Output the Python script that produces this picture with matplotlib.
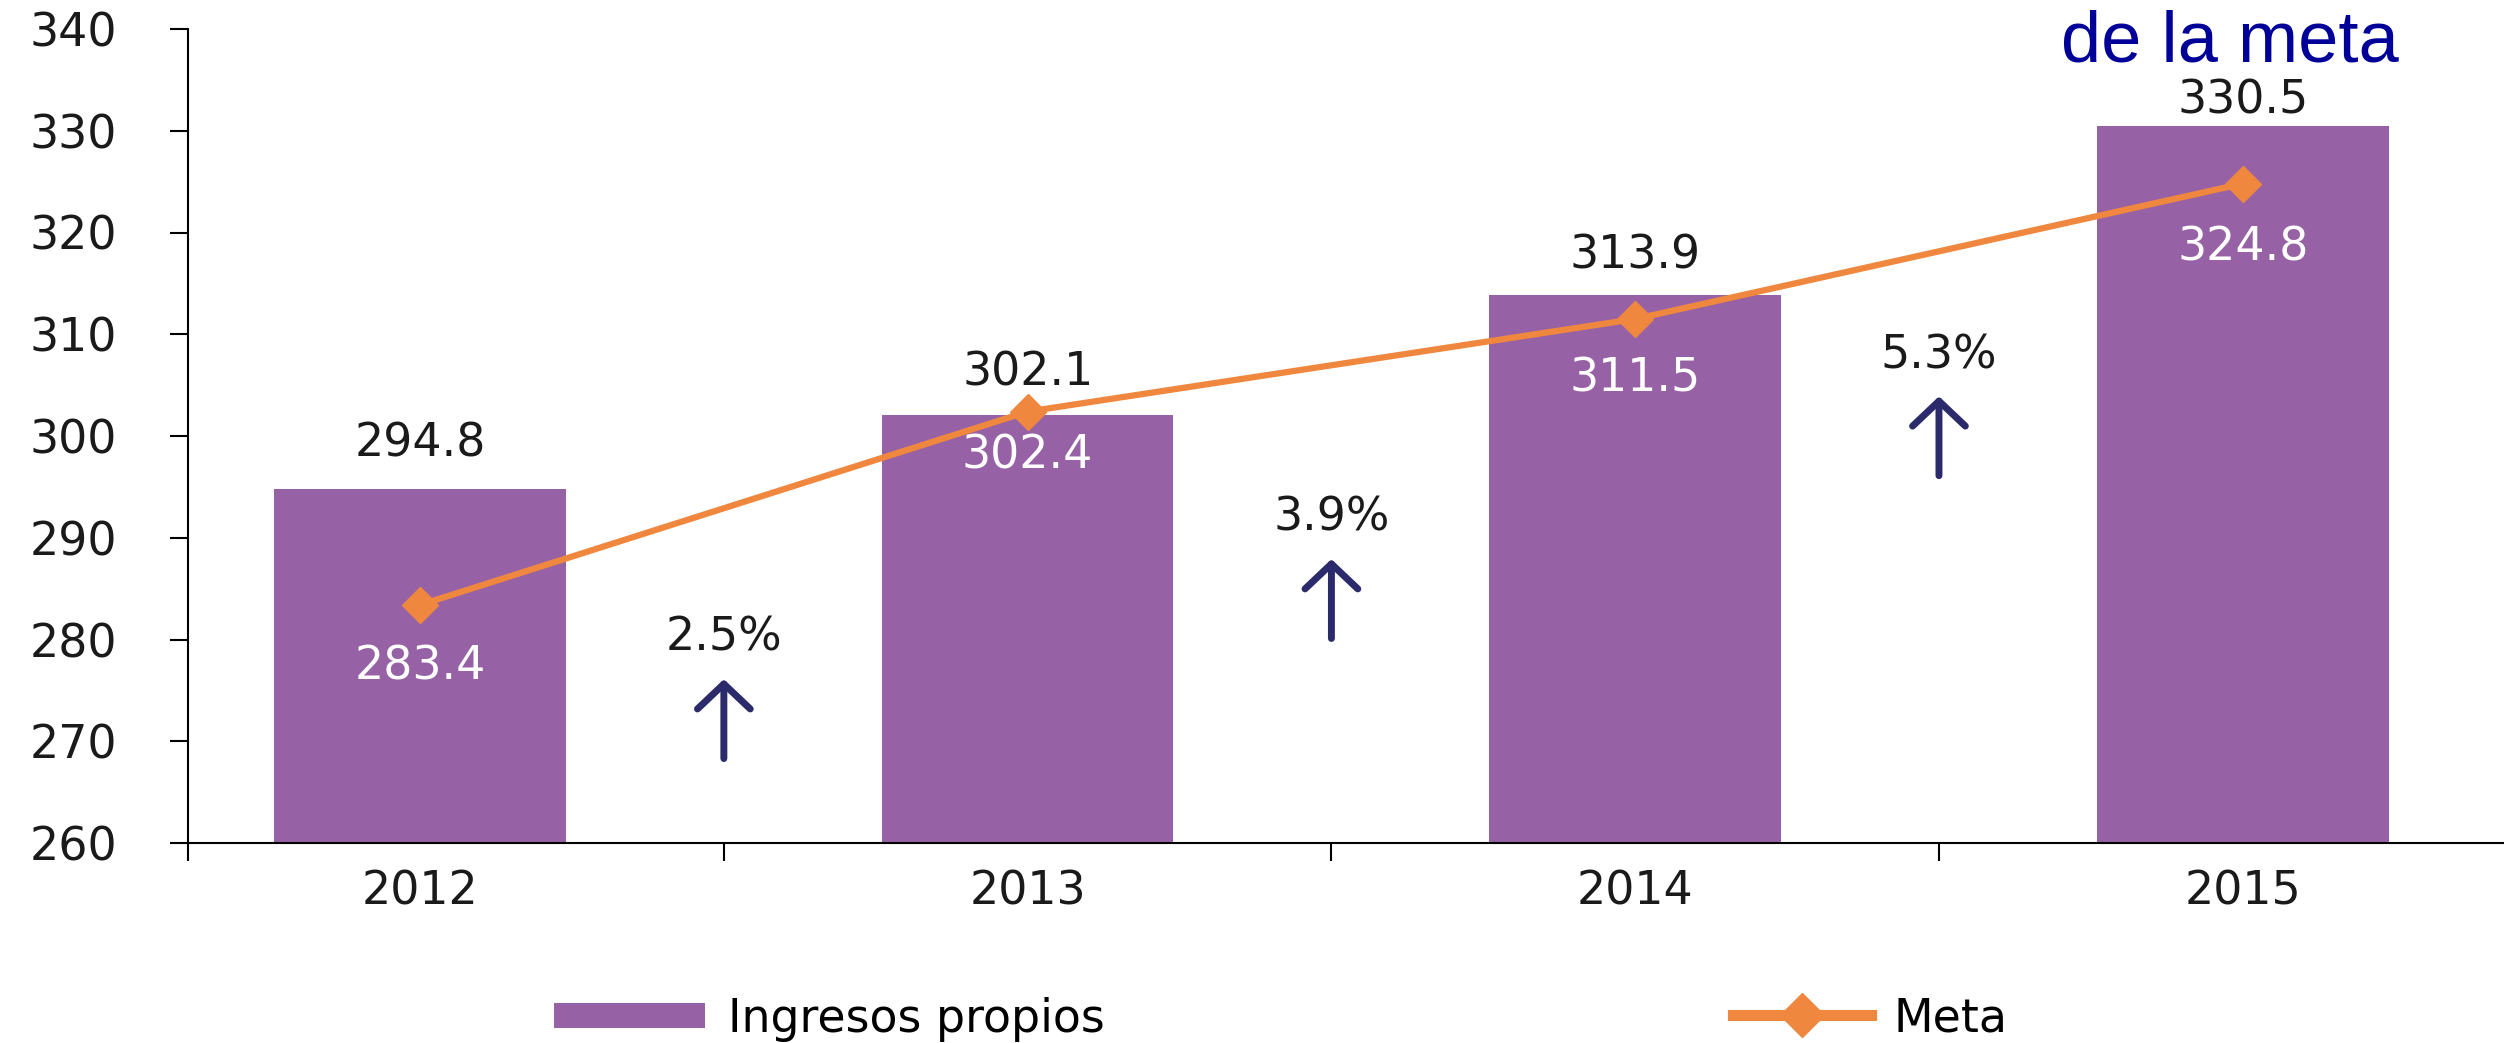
import matplotlib
matplotlib.use('Agg')
import matplotlib.pyplot as plt
from matplotlib.patches import Patch
from matplotlib.lines import Line2D

plt.rcParams['font.family'] = ['DejaVu Sans']

# datos
years = ['2012', '2013', '2014', '2015']
ingresos = [294.8, 302.1, 313.9, 330.5]
meta = [283.4, 302.4, 311.5, 324.8]
crecimiento = ['2.5%', '3.9%', '5.3%']

# posición de las flechas (base, en unidades del eje y)
flecha_base = [268.3, 280.1, 296.1]
# desplazamientos (pt) de las etiquetas
ingresos_dy = [23, 21, 19, 9]
meta_dy = [-45, -32, -43, -46]

morado = '#9762a5'
naranja = '#f0873f'
azul_flecha = '#2b2a6b'
negro = '#1a1a1a'
fs = 33

fig = plt.figure(figsize=(25.04, 10.43), dpi=100)
ax = fig.add_axes([188 / 2504, 1 - 843 / 1043, 1 - 188 / 2504, (843 - 29) / 1043])

x = list(range(len(years)))
ax.bar(x, ingresos, width=0.48, color=morado, zorder=2)
ax.plot(x, meta, color=naranja, lw=4.5, marker='D', ms=18, zorder=3)

# etiquetas sobre las barras
for i, (v, dy) in enumerate(zip(ingresos, ingresos_dy)):
    ax.annotate(f'{v:.1f}', (i, v), xytext=(0, dy), textcoords='offset points',
                ha='center', va='baseline', fontsize=fs, color=negro)

# etiquetas de la meta (blancas)
for i, (m, dy) in enumerate(zip(meta, meta_dy)):
    ax.annotate(f'{m:.1f}', (i, m), xytext=(0, dy), textcoords='offset points',
                ha='center', va='center', fontsize=fs, color='white', zorder=4)

# flechas de crecimiento
for i, (txt, b) in enumerate(zip(crecimiento, flecha_base)):
    xi = i + 0.5
    ax.annotate('', xy=(xi, b + 7.8), xytext=(xi, b),
                arrowprops=dict(arrowstyle='->,head_length=1.8,head_width=1.9',
                                mutation_scale=10, lw=5, color=azul_flecha,
                                shrinkA=0, shrinkB=0))
    ax.text(xi, b + 11.8, txt, ha='center', va='center', fontsize=fs, color=negro)

# ejes
ax.set_ylim(260, 340)
ax.set_yticks(range(260, 341, 10))
ax.set_xlim(-0.382, 3.43)
ax.set_xticks([-0.382, 0.5, 1.5, 2.5], labels=['', '', '', ''])
ax.set_xticks(x, labels=years, minor=True)
ax.tick_params(axis='y', length=13, width=1.5, pad=38, labelsize=fs, labelcolor=negro)
ax.tick_params(axis='x', which='major', length=13, width=1.5)
ax.tick_params(axis='x', which='minor', length=0, pad=19, labelsize=fs, labelcolor=negro)
for s in ['top', 'right']:
    ax.spines[s].set_visible(False)
for s in ['left', 'bottom']:
    ax.spines[s].set_linewidth(1.5)

# leyenda
h1 = Patch(facecolor=morado)
fig.legend([h1], ['Ingresos propios'], loc='center left', bbox_to_anchor=(554 / 2504, 0.023),
           frameon=False, fontsize=fs, handlelength=3.3, handleheight=0.45,
           handletextpad=0.5, borderpad=0, borderaxespad=0)
h2 = Line2D([], [], color=naranja, lw=8, marker='D', ms=22)
fig.legend([h2], ['Meta'], loc='center left', bbox_to_anchor=(1733 / 2504, 0.023),
           frameon=False, fontsize=fs, handlelength=3.0, numpoints=1,
           handletextpad=0.5, borderpad=0, borderaxespad=0)

# título (cortado en la parte superior)
fig.text(2399 / 2504, 1 - 61 / 1043, 'de la meta', fontsize=52, color='#000099',
         ha='right', va='baseline', family='Liberation Sans')

fig.savefig('out.png', dpi=100)
